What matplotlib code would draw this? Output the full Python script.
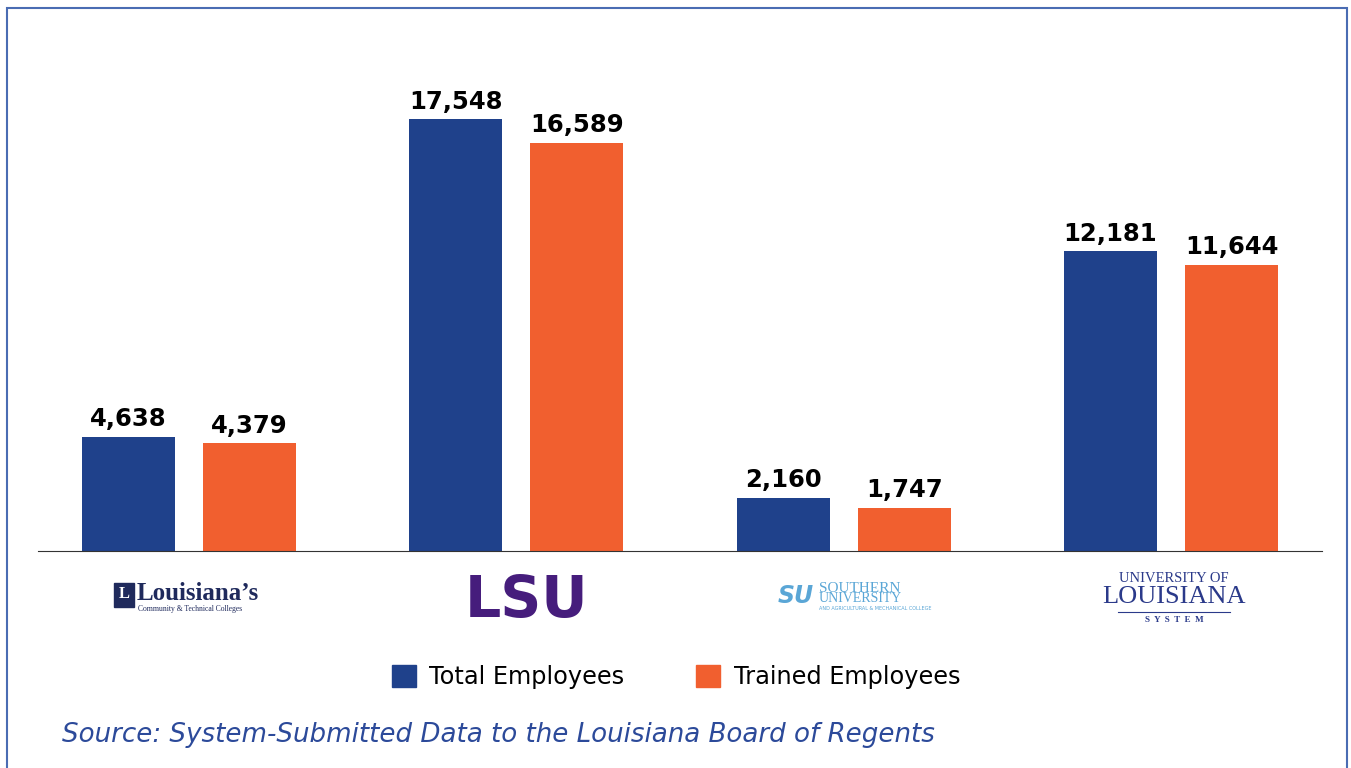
import matplotlib.pyplot as plt
from matplotlib.patches import Rectangle, Patch
import numpy as np

systems = ["LCTCS", "LSU", "Southern University", "University of Louisiana System"]
total_employees = [4638, 17548, 2160, 12181]
trained_employees = [4379, 16589, 1747, 11644]
series_names = ["Total Employees", "Trained Employees"]

blue = "#1f418b"
orange = "#f15f2f"

W, H = 1351, 768
fig = plt.figure(figsize=(W / 100, H / 100), dpi=100)


def fx(px):
    return px / W


def fy(py):
    return 1 - py / H


# outer frame
fig.patches.append(Rectangle((fx(7), fy(790)), fx(1347) - fx(7), fy(8) - fy(790),
                             transform=fig.transFigure, fill=False,
                             edgecolor="#4a6cb3", linewidth=1.5))

ax = fig.add_axes([fx(38), fy(551), fx(1322) - fx(38), (551 - 59) / H])
x = np.arange(len(systems))
bw = 0.284
off = 0.185
b1 = ax.bar(x - off, total_employees, bw, color=blue)
b2 = ax.bar(x + off, trained_employees, bw, color=orange)
ax.set_ylim(0, 20000)
ax.set_xlim(-0.461, 3.461)

for bars, vals in [(b1, total_employees), (b2, trained_employees)]:
    for b, v in zip(bars, vals):
        ax.annotate(f"{v:,}", (b.get_x() + b.get_width() / 2, v),
                    xytext=(0, 4), textcoords="offset points",
                    ha="center", va="bottom", fontsize=17.5, fontweight="bold",
                    color="black")

for s in ["top", "left", "right"]:
    ax.spines[s].set_visible(False)
ax.spines["bottom"].set_color("#333333")
ax.spines["bottom"].set_linewidth(0.8)
ax.set_xticks([])
ax.set_yticks([])

# logos drawn as text
navy = "#1f2a5c"
# LCTCS
fig.patches.append(Rectangle((fx(114), fy(607)), fx(134) - fx(114), fy(583) - fy(607),
                             transform=fig.transFigure, color=navy))
fig.text(fx(124), fy(594), "L", color="white", fontsize=12, fontweight="bold",
         family="Liberation Serif", ha="center", va="center")
fig.text(fx(137), fy(594), "Louisiana\u2019s", color=navy, fontsize=18, fontweight="bold",
         family="Liberation Serif", ha="left", va="center")
fig.text(fx(138), fy(609), "Community & Technical Colleges", color=navy, fontsize=5.5,
         family="Liberation Serif", ha="left", va="center")
# LSU
fig.text(fx(527), fy(601), "LSU", color="#461d7c", fontsize=41, fontweight="heavy",
         family="DejaVu Sans", ha="center", va="center")
# Southern University
su = "#5aa6d6"
fig.text(fx(796), fy(596), "SU", color=su, fontsize=17, fontweight="bold", style="italic",
         family="DejaVu Sans", ha="center", va="center")
fig.text(fx(819), fy(588), "SOUTHERN", color=su, fontsize=11, family="Liberation Serif",
         ha="left", va="center")
fig.text(fx(819), fy(599), "UNIVERSITY", color=su, fontsize=10, family="Liberation Serif",
         ha="left", va="center")
fig.text(fx(819), fy(608), "AND AGRICULTURAL & MECHANICAL COLLEGE", color=su, fontsize=3.5,
         family="DejaVu Sans", ha="left", va="center")
# University of Louisiana System
ul = "#2b3a8a"
fig.text(fx(1174), fy(578), "UNIVERSITY OF", color=ul, fontsize=10.5, family="Liberation Serif",
         ha="center", va="center")
fig.text(fx(1174), fy(597), "LOUISIANA", color=ul, fontsize=19, family="Liberation Serif",
         ha="center", va="center")
fig.lines.append(plt.Line2D([fx(1118), fx(1230)], [fy(612), fy(612)],
                            transform=fig.transFigure, color=ul, linewidth=0.8))
fig.text(fx(1174), fy(620), "S  Y  S  T  E  M", color=ul, fontsize=6.5, fontweight="bold",
         family="Liberation Serif", ha="center", va="center")

handles = [Patch(color=blue), Patch(color=orange)]
fig.legend(handles, series_names, loc="center", bbox_to_anchor=(fx(676), fy(677)),
           ncol=2, frameon=False, fontsize=17.3, handlelength=1.0, handleheight=1.0,
           handletextpad=0.55, columnspacing=3.0)

fig.text(fx(62), fy(735), "Source: System-Submitted Data to the Louisiana Board of Regents",
         color="#2c4a9a", fontsize=18.8, style="italic", ha="left", va="center")

fig.savefig("out.png", dpi=100)
